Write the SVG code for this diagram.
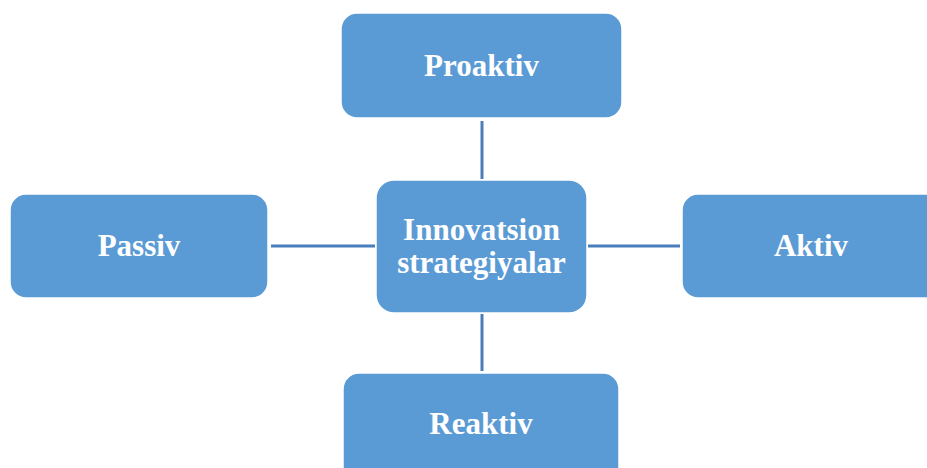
<svg xmlns="http://www.w3.org/2000/svg" width="927" height="468" viewBox="0 0 927 468">
<style>
.box{fill:#5b9bd5;stroke:#ffffff;stroke-width:1.5}
.lbl{font-family:"Liberation Serif","Times New Roman",serif;font-weight:bold;font-size:31px;fill:#ffffff;text-anchor:middle}
.con{stroke:#4a7ebb;stroke-width:3;fill:none}
</style>
<rect width="927" height="468" fill="#ffffff"/>
<g id="connectors">
<line class="con" x1="482" y1="121" x2="482" y2="179"/>
<line class="con" x1="482" y1="314" x2="482" y2="371"/>
<line class="con" x1="271" y1="246" x2="375" y2="246"/>
<line class="con" x1="588" y1="246" x2="680" y2="246"/>
</g>
<g id="proaktiv">
<rect class="box" x="341" y="13" width="281" height="105" rx="16"/>
<text class="lbl" x="481.5" y="76">Proaktiv</text>
</g>
<g id="passiv">
<rect class="box" x="10" y="194" width="258" height="104" rx="16"/>
<text class="lbl" x="139" y="256">Passiv</text>
</g>
<g id="center">
<rect class="box" x="376" y="180" width="211" height="133" rx="18"/>
<text class="lbl" x="481.5" y="240">Innovatsion</text>
<text class="lbl" x="481.5" y="273">strategiyalar</text>
</g>
<g id="aktiv">
<rect class="box" x="682" y="194" width="265" height="104" rx="16"/>
<text class="lbl" x="811" y="256">Aktiv</text>
</g>
<g id="reaktiv">
<rect class="box" x="343" y="373" width="276" height="110" rx="16"/>
<text class="lbl" x="481" y="434">Reaktiv</text>
</g>
</svg>
